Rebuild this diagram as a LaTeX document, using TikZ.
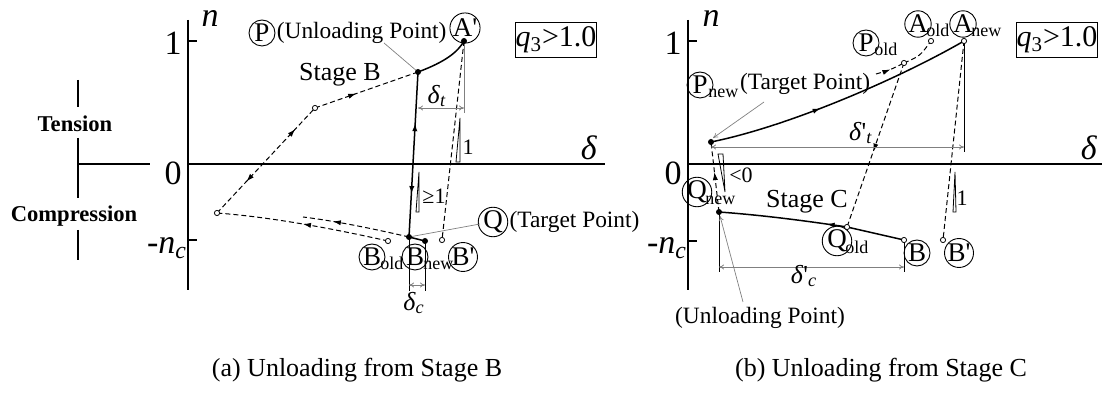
\documentclass[tikz,border=0pt]{standalone}
\usepackage{fontspec}
\setmainfont{Liberation Serif}
\usetikzlibrary{arrows.meta,decorations.markings}

\tikzset{
  axis/.style={line width=0.6pt},
  solidpath/.style={line width=0.75pt},
  dashedpath/.style={line width=0.5pt, dash pattern=on 2.5pt off 1.5pt},
  leader/.style={draw=gray, line width=0.35pt},
  dim/.style={draw=gray, line width=0.4pt, {To[length=2.5pt,width=2.5pt]}-{To[length=2.5pt,width=2.5pt]}},
  dot/.style={circle, fill=black, inner sep=0pt, minimum size=3pt},
  opendot/.style={circle, draw=black, fill=white, line width=0.4pt, inner sep=0pt, minimum size=2.6pt},
  lbl/.style={circle, draw, line width=0.45pt, inner sep=0pt, minimum size=13pt, font=\fontsize{13.5}{13.5}\selectfont},
  sublbl/.style={inner sep=0pt, anchor=base west, font=\fontsize{9}{9}\selectfont},
  txt/.style={inner sep=0pt, font=\fontsize{11.7}{12}\selectfont},
  axlbl/.style={inner sep=0pt, font=\fontsize{17}{17}\selectfont},
  stagelbl/.style={inner sep=0pt, font=\fontsize{13}{13}\selectfont},
  dimlbl/.style={inner sep=0pt, font=\fontsize{13}{13}\selectfont},
  slopelbl/.style={inner sep=0pt, font=\fontsize{11}{11}\selectfont},
  sidelbl/.style={inner sep=0pt, font=\bfseries\fontsize{11.3}{12}\selectfont},
  qbox/.style={draw, line width=0.5pt, inner sep=0pt, minimum width=40pt, minimum height=17.5pt, font=\fontsize{15}{15}\selectfont},
  caption/.style={inner sep=0pt, font=\fontsize{13}{13}\selectfont},
  midarrow/.style={postaction={decorate, decoration={markings, mark=at position #1 with {\arrow{Latex[length=4pt,width=2.6pt]}}}}},
  midarrowrev/.style={postaction={decorate, decoration={markings, mark=at position #1 with {\arrowreversed{Latex[length=4pt,width=2.6pt]}}}}}
}

\begin{document}
\begin{tikzpicture}[x=0.5pt, y=-0.5pt]
\useasboundingbox (0,0) rectangle (1102,394);

\node[sidelbl] (tension) at (75,124) {Tension};
\node[sidelbl] (compression) at (74,216) {Compression};
\draw[axis] (78,80) -- (78,107);
\draw[axis] (78,138) -- (78,198);
\draw[axis] (78,164) -- (150,164);
\draw[axis] (78,230) -- (78,260);

\draw[axis] (188,20) -- (188,290);
\draw[axis] (188,164) -- (605,164);
\draw[axis] (188,41) -- (197,41);
\draw[axis] (188,240) -- (197,240);
\node[axlbl] (a1) at (173,43) {1};
\node[axlbl] (a0) at (173,173) {0};
\node[axlbl] (anc) at (167,248) {-\textit{n}\textsubscript{\textit{c}}};
\node[axlbl] (an) at (210,18) {\textit{n}};
\node[axlbl] (adelta) at (589,148) {\textit{δ}};
\node[qbox] (aq) at (556,40) {\textit{q}\textsubscript{3}>1.0};

\coordinate (aS) at (217,213);
\coordinate (aY) at (315,108);
\coordinate (aP) at (418,72);
\coordinate (aA) at (464,41);
\coordinate (aQ) at (409,237);
\coordinate (aBn) at (425,241);
\coordinate (aBo) at (388,241);
\coordinate (aBp) at (442,240);
\coordinate (aQe) at (303,217);

\draw[dashedpath, midarrowrev=0.3, midarrow=0.8] (aS) -- (aY);
\draw[dashedpath, midarrow=0.4] (aY) -- (aP);
\draw[solidpath] (aP) .. controls (445,62) and (458,52) .. (aA);
\draw[dashedpath] (aA) -- (aBp);
\draw[solidpath, midarrowrev=0.31, midarrow=0.74] (aP) -- (aQ);
\draw[solidpath] (aQ) -- (aBn);
\draw[dashedpath, midarrow=0.72] (aQ) .. controls (370,228) and (335,221) .. (aQe);
\draw[dashedpath, midarrow=0.5] (aBo) .. controls (330,228) and (270,217) .. (aS);

\draw[leader] (aA) -- (464,113);
\draw[dim] (418,108) -- (464,108);
\node[dimlbl] (adt) at (437,96) {\textit{δ}\textsubscript{\textit{t}}};
\draw[line width=0.4pt] (456,162) -- (460,118) -- (460,162) -- cycle;
\node[slopelbl] (aslope1) at (468,147) {1};
\draw[line width=0.4pt] (416,212) -- (419,172) -- (419,212) -- cycle;
\node[slopelbl] (aslope2) at (434,196) {≥1};

\draw[line width=0.4pt] (aQ) -- (409,291);
\draw[line width=0.4pt] (aBn) -- (425,291);
\draw[dim] (409,285) -- (425,285);
\node[dimlbl] (adc) at (414,303) {\textit{δ}\textsubscript{\textit{c}}};

\node[stagelbl] (astage) at (340,75) {Stage B};

\node[lbl] (aPl) at (262,33) {P};
\node[txt, anchor=west] (aPt) at ([xshift=0.5pt]aPl.east) {(Unloading Point)};
\draw[leader] (384,43) -- (aP);
\node[lbl] (aAl) at (465,28) {A\textquotesingle};
\node[lbl] (aQl) at (493,222) {Q};
\node[txt, anchor=west] (aQt) at ([xshift=0.5pt]aQl.east) {(Target Point)};
\draw[leader] (480,224) -- (aQ);
\node[lbl] (aBol) at (372,257) {B};
\node[sublbl] (aBos) at ([xshift=4pt,yshift=-6.5pt]aBol.center) {old};
\node[lbl] (aBnl) at (415,257) {B};
\node[sublbl] (aBns) at ([xshift=4pt,yshift=-6.5pt]aBnl.center) {new};
\node[lbl] (aBpl) at (463,257) {B\textquotesingle};

\node[opendot] (aSd) at (aS) {};
\node[opendot] (aYd) at (aY) {};
\node[opendot] (aBod) at (aBo) {};
\node[opendot] (aBpd) at (aBp) {};
\node[dot] (aPd) at (aP) {};
\node[dot] (aAd) at (aA) {};
\node[dot] (aQd) at (aQ) {};
\node[dot] (aBnd) at (aBn) {};

\draw[axis] (688,20) -- (688,290);
\draw[axis] (688,164) -- (1102,164);
\draw[axis] (688,41) -- (697,41);
\draw[axis] (688,241) -- (697,241);
\node[axlbl] (b1) at (673,43) {1};
\node[axlbl] (b0) at (673,173) {0};
\node[axlbl] (bnc) at (667,248) {-\textit{n}\textsubscript{\textit{c}}};
\node[axlbl] (bn) at (711,18) {\textit{n}};
\node[axlbl] (bdelta) at (1089,148) {\textit{δ}};
\node[qbox] (bq) at (1057,40) {\textit{q}\textsubscript{3}>1.0};

\coordinate (bPn) at (711,142);
\coordinate (bAn) at (964,41);
\coordinate (bAo) at (931,41);
\coordinate (bPo) at (904,63);
\coordinate (bPs) at (876,74);
\coordinate (bQo) at (847,227);
\coordinate (bQn) at (719,212);
\coordinate (bB) at (904,240);
\coordinate (bBp) at (943,240);

\draw[solidpath, midarrow=0.42] (bPn) .. controls (790,126) and (900,78) .. (bAn);
\draw[dashedpath] (bAn) -- (bBp);
\draw[dashedpath, midarrow=0.5] (bPs) .. controls (890,70) .. (bPo);
\draw[dashedpath] (bPo) .. controls (920,56) .. (bAo);
\draw[dashedpath, midarrow=0.54] (bPo) -- (bQo);
\draw[solidpath] (bB) -- (bQo);
\draw[solidpath, midarrow=0.16] (bQo) .. controls (800,220) and (760,215) .. (bQn);
\draw[dashedpath, midarrow=0.57] (bQn) -- (bPn);

\draw[line width=0.5pt] (bAn) -- (964,152);
\draw[dim] (711,147) -- (964,147);
\node[dimlbl] (bdt) at (861,133) {\textit{δ}\textquotesingle\textsubscript{\textit{t}}};
\draw[line width=0.4pt] (953,212) -- (955,172) -- (956,212) -- cycle;
\node[slopelbl] (bslope1) at (962,198) {1};
\draw[line width=0.4pt] (718,154) -- (723,154) -- (725,192) -- cycle;
\node[slopelbl] (bslope2) at (741,175) {<0};

\draw[line width=0.5pt] (bQn) -- (719,272);
\draw[line width=0.5pt] (bB) -- (904,272);
\draw[dim] (719,267) -- (904,267);
\node[dimlbl] (bdc) at (804,276) {\textit{δ}\textquotesingle\textsubscript{\textit{c}}};

\node[stagelbl] (bstage) at (807,202) {Stage C};

\node[lbl] (bPnl) at (700,85) {P};
\node[sublbl] (bPns) at ([xshift=4pt,yshift=-6.5pt]bPnl.center) {new};
\node[txt, anchor=base west] (bPnt) at ([xshift=0.5pt,yshift=4.2pt]bPns.base east) {(Target Point)};
\draw[leader, -{To[length=2.5pt,width=2.5pt]}] (764,102) -- (713,138);
\node[lbl] (bPol) at (866,43) {P};
\node[sublbl] (bPos) at ([xshift=4pt,yshift=-6.5pt]bPol.center) {old};
\node[lbl] (bAol) at (918,24) {A};
\node[sublbl] (bAos) at ([xshift=4pt,yshift=-6.5pt]bAol.center) {old};
\node[lbl] (bAnl) at (963,24) {A};
\node[sublbl] (bAns) at ([xshift=4pt,yshift=-6.5pt]bAnl.center) {new};
\node[lbl] (bQnl) at (697,192) {Q};
\node[sublbl] (bQns) at ([xshift=4pt,yshift=-6.5pt]bQnl.center) {new};
\node[lbl] (bQol) at (837,241) {Q};
\node[sublbl] (bQos) at ([xshift=4pt,yshift=-6.5pt]bQol.center) {old};
\node[lbl] (bBl) at (917,253) {B};
\node[lbl] (bBpl) at (959,253) {B\textquotesingle};
\node[txt] (bUt) at (760,318) {(Unloading Point)};
\draw[leader, -{To[length=2.5pt,width=2.5pt]}] (743,302) -- (720,216);

\node[opendot] (bAnd) at (bAn) {};
\node[opendot] (bAod) at (bAo) {};
\node[opendot] (bPod) at (bPo) {};
\node[opendot] (bQod) at (bQo) {};
\node[opendot] (bBd) at (bB) {};
\node[opendot] (bBpd) at (bBp) {};
\node[dot] (bPnd) at (bPn) {};
\node[dot] (bQnd) at (bQn) {};

\node[caption] (acap) at (357,370) {(a) Unloading from Stage B};
\node[caption] (bcap) at (881,370) {(b) Unloading from Stage C};
\end{tikzpicture}
\end{document}
